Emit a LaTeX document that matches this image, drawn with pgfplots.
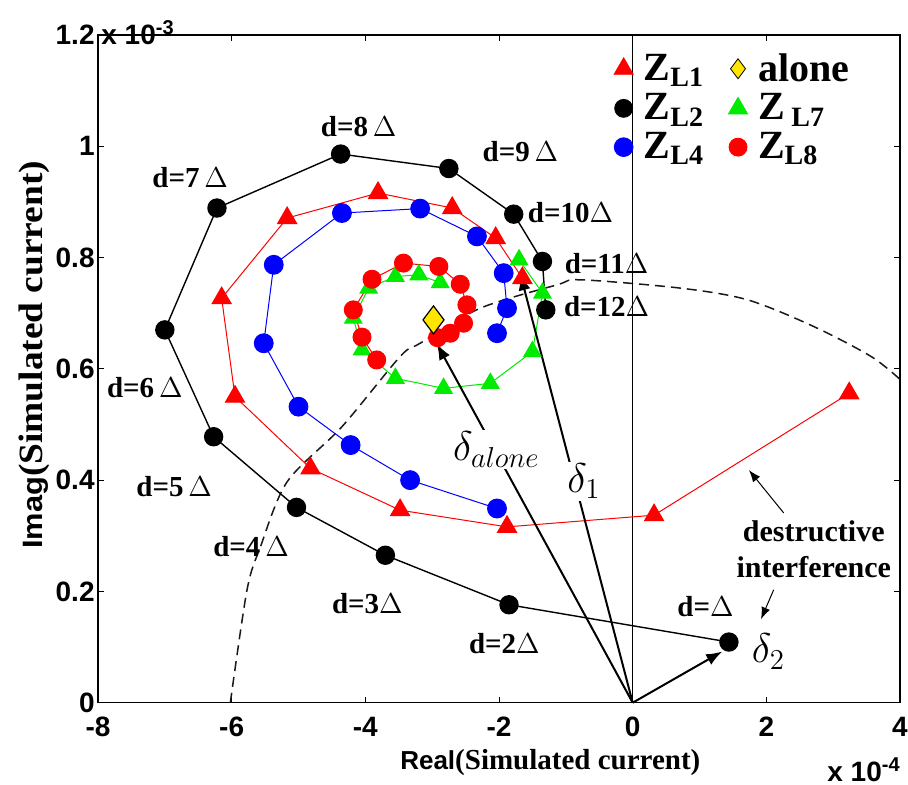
\documentclass[border=0pt]{standalone}
\usepackage{pgfplots}
\pgfplotsset{compat=1.18}
\usepackage{fontspec}
\setmainfont{Liberation Serif}
\setsansfont{Liberation Sans}
\newfontfamily\arialfont{Liberation Sans}
\newfontfamily\timesfont{Liberation Serif}
\usetikzlibrary{arrows.meta}
\definecolor{mred}{RGB}{255,0,0}
\definecolor{mgreen}{RGB}{0,235,0}
\definecolor{mblue}{RGB}{0,0,255}
\definecolor{myellow}{RGB}{255,230,0}
\begin{document}
\begin{tikzpicture}
\begin{axis}[
  scale only axis, width=401pt, height=333.85pt,
  xmin=-8, xmax=4, ymin=0, ymax=1.2,
  xtick={-8,-6,-4,-2,0,2,4}, xticklabels={-8,-6,-4,-2,0,2,4},
  ytick={0,0.2,0.4,0.6,0.8,1,1.2}, yticklabels={0,0.2,0.4,0.6,0.8,1,1.2},
  /pgf/number format/assume math mode=true,
  tick align=inside, major tick length=3pt,
  axis line style={line width=0.6pt},
  every tick/.style={black, line width=0.5pt},
  xticklabel style={font=\arialfont\bfseries\fontsize{14}{16}\selectfont, yshift=-3.5pt},
  yticklabel style={font=\arialfont\bfseries\fontsize{14}{16}\selectfont, inner xsep=1.5pt},
  legend image code/.code={\path[draw=none, fill=none] (0pt,-4pt) rectangle (14pt,4pt); \draw plot coordinates {(7pt,0pt)};},
  legend style={at={(rel axis cs:0.63,0.985)}, anchor=north west, draw=none, fill=none,
    font=\timesfont\fontsize{20}{22}\selectfont\bfseries, row sep=0.8pt,
    nodes={inner xsep=3pt},
    /tikz/every odd column/.append style={column sep=0pt},
    /tikz/every even column/.append style={column sep=7pt}},
  legend columns=2, legend cell align=left,
  clip=false,
]
% legend entries
\addlegendimage{mark=triangle*, mark size=5.5pt, color=mred}
\addlegendentry{Z\textsubscript{L1}}
\addlegendimage{mark=diamond*, mark size=5pt, draw=black, fill=myellow}
\addlegendentry{alone}
\addlegendimage{mark=*, mark size=4.5pt, color=black}
\addlegendentry{Z\textsubscript{L2}}
\addlegendimage{mark=triangle*, mark size=5.5pt, color=mgreen}
\addlegendentry{Z\,\textsubscript{L7}}
\addlegendimage{mark=*, mark size=4.7pt, color=mblue}
\addlegendentry{Z\textsubscript{L4}}
\addlegendimage{mark=*, mark size=4.5pt, color=mred}
\addlegendentry{Z\textsubscript{L8}}

% dashed arc
\addplot[forget plot, smooth, dash pattern=on 5pt off 3pt, line width=0.75pt, black!90] coordinates {
 (-6.02,0) (-5.77,0.203) (-5.57,0.280) (-5.17,0.397) (-4.35,0.496) (-3.48,0.622) (-3.18,0.646)
 (-2.28,0.709) (-1.13,0.751) (-0.78,0.760) (0.72,0.745) (1.72,0.724) (2.71,0.676) (3.57,0.622) (4.01,0.580)};
% vertical zero line
\addplot[forget plot, black, line width=0.5pt] coordinates {(0,0) (0,1.2)};

% Z_L2
\addplot[forget plot, black, line width=0.7pt, mark=*, mark size=4.5pt] coordinates {
 (1.44,0.109) (-1.85,0.176) (-3.70,0.265) (-5.03,0.351) (-6.27,0.478) (-7.00,0.670)
 (-6.22,0.889) (-4.37,0.986) (-2.75,0.960) (-1.78,0.878) (-1.35,0.793) (-1.30,0.706)};
% Z_L1
\addplot[forget plot, mred, line width=0.5pt, mark=triangle*, mark size=5.5pt] coordinates {
 (3.24,0.556) (0.32,0.337) (-1.88,0.316) (-3.48,0.346) (-4.82,0.421) (-5.95,0.550)
 (-6.15,0.727) (-5.17,0.871) (-3.81,0.916) (-2.70,0.889) (-2.05,0.835) (-1.65,0.763)};
% Z_L4
\addplot[forget plot, mblue, line width=0.5pt, mark=*, mark size=4.7pt] coordinates {
 (-2.03,0.349) (-3.33,0.400) (-4.22,0.463) (-5.00,0.532) (-5.52,0.646) (-5.37,0.787)
 (-4.35,0.880) (-3.18,0.888) (-2.33,0.838) (-1.93,0.772) (-1.88,0.709) (-2.03,0.664)};
% Z_L7
\addplot[forget plot, mgreen, line width=0.5pt, mark=triangle*, mark size=5pt] coordinates {
 (-1.70,0.796) (-1.35,0.736) (-1.50,0.631) (-2.13,0.574) (-2.83,0.565) (-3.55,0.583)
 (-4.05,0.634) (-4.18,0.691) (-3.95,0.745) (-3.55,0.766) (-3.20,0.769) (-2.88,0.755)};
% Z_L8
\addplot[forget plot, mred, line width=0.5pt, mark=*, mark size=4.5pt] coordinates {
 (-3.83,0.616) (-4.05,0.657) (-4.18,0.706) (-3.90,0.761) (-3.43,0.790) (-2.90,0.784)
 (-2.58,0.752) (-2.48,0.715) (-2.53,0.682) (-2.73,0.664) (-2.92,0.656)};
% alone
\addplot[forget plot, only marks, mark=diamond*, mark size=7pt, draw=black, fill=myellow, line width=0.6pt] coordinates {(-2.98,0.688)};

% delta arrows
\draw[line width=1pt, -{Latex[length=8pt,width=6pt]}] (axis cs:0,0) -- (axis cs:-2.93,0.645);
\draw[line width=1pt, -{Latex[length=8pt,width=6pt]}] (axis cs:0,0) -- (axis cs:-1.68,0.770);
\draw[line width=1pt, -{Latex[length=8pt,width=6pt]}] (axis cs:0,0) -- (axis cs:1.34,0.092);
% delta labels with white background over the arrow lines
\node[fill=white, inner sep=1pt, font=\fontsize{21}{23}\selectfont] at (axis cs:-2.04,0.455) {$\delta_{alone}$};
\node[fill=white, inner sep=1pt, font=\fontsize{22}{24}\selectfont] at (axis cs:-0.73,0.398) {$\delta_1$};
\node[font=\fontsize{22}{24}\selectfont] at (axis cs:2.03,0.092) {$\delta_2$};

% d labels
\begin{scope}[every node/.style={font=\timesfont\fontsize{14.5}{16}\selectfont\bfseries, inner sep=0pt}]
\node at (axis cs:-4.10,1.035) {d=8\,$\Delta$};
\node at (axis cs:-1.68,0.990) {d=9\,$\Delta$};
\node at (axis cs:-6.62,0.943) {d=7\,$\Delta$};
\node at (axis cs:-0.93,0.880) {d=10$\Delta$};
\node at (axis cs:-0.39,0.790) {d=11$\Delta$};
\node at (axis cs:-0.39,0.711) {d=12$\Delta$};
\node at (axis cs:-7.30,0.567) {d=6\,$\Delta$};
\node at (axis cs:-6.86,0.389) {d=5\,$\Delta$};
\node at (axis cs:-5.71,0.280) {d=4\,$\Delta$};
\node at (axis cs:-3.97,0.179) {d=3$\Delta$};
\node at (axis cs:-1.92,0.107) {d=2$\Delta$};
\node at (axis cs:1.09,0.172) {d=$\Delta$};
\node[align=center, font=\timesfont\fontsize{15}{18}\selectfont\bfseries] at (axis cs:2.71,0.276) {destructive\\interference};
\end{scope}
\draw[line width=0.5pt, -{Latex[length=6pt,width=4.5pt]}] (axis cs:2.26,0.341) -- (axis cs:1.74,0.418);
\draw[line width=0.5pt, -{Latex[length=6pt,width=4.5pt]}] (axis cs:2.11,0.203) -- (axis cs:1.92,0.150);

% axis labels
\node[anchor=north, inner sep=0pt, font=\rmfamily\bfseries\fontsize{14.5}{17}\selectfont] at (rel axis cs:0.564,0) [yshift=-23pt] {\textsf{\fontsize{13}{15}\selectfont Real}\textrm{(Simulated current)}};
\node[rotate=90, anchor=center, inner sep=0pt, font=\rmfamily\bfseries\fontsize{17}{19}\selectfont] at (rel axis cs:-0.079,0.521) {\scalebox{1.1}[1]{\textsf{\fontsize{14}{16}\selectfont Imag}\textrm{(Simulated current)}}};

% exponent labels
\node[anchor=base west, inner sep=0pt, font=\arialfont\bfseries\fontsize{14}{16}\selectfont] at (rel axis cs:0,1) [xshift=1.5pt, yshift=-5pt] {x 10\textsuperscript{\fontsize{10}{10}\selectfont-3}};
\node[anchor=base west, inner sep=0pt, font=\arialfont\bfseries\fontsize{14}{16}\selectfont] at (rel axis cs:0,0) [xshift=364.5pt, yshift=-39.6pt] {x 10\textsuperscript{\fontsize{10}{10}\selectfont-4}};
\end{axis}
\pgfresetboundingbox
\path (-49pt,-41.15pt) rectangle (405pt,351.35pt);
\end{tikzpicture}
\end{document}
